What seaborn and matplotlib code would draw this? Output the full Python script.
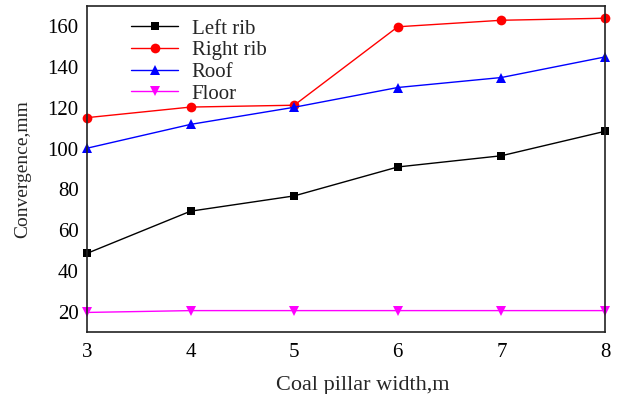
import matplotlib
matplotlib.use("Agg")
import matplotlib.pyplot as plt
import seaborn as sns
import pandas as pd

widths = [3, 4, 5, 6, 7, 8]
left_rib = [48.6, 69.3, 76.8, 91.0, 96.5, 108.5]
right_rib = [115.2, 120.4, 121.3, 159.8, 163.0, 164.0]
roof = [100.2, 111.9, 120.3, 130.0, 134.9, 145.0]
floor = [19.6, 20.5, 20.5, 20.5, 20.5, 20.5]

series = ["Left rib", "Right rib", "Roof", "Floor"]
colors = ["black", "red", "blue", "magenta"]
markers = ["s", "o", "^", "v"]

df = pd.DataFrame({
    "width": widths * 4,
    "value": left_rib + right_rib + roof + floor,
    "series": sum([[s] * len(widths) for s in series], []),
})

sns.set_style("white")
plt.rcParams["font.family"] = ["Liberation Serif", "DejaVu Serif"]

fig = plt.figure(figsize=(6.21, 3.94), dpi=100)
ax = fig.add_axes([87 / 621, 62 / 394, 518 / 621, 326 / 394])

sns.lineplot(data=df, x="width", y="value", hue="series", style="series",
             palette=dict(zip(series, colors)), markers=dict(zip(series, markers)),
             dashes=False, markersize=7, linewidth=1, markeredgewidth=0,
             ax=ax)
for ln in ax.lines:
    ln.set_clip_on(False)
    if ln.get_marker() == "s":
        ln.set_markersize(6)

ax.set_xlim(3, 8)
ax.set_ylim(10, 170)
ax.set_xticks(widths)
ax.set_yticks([20, 40, 60, 80, 100, 120, 140, 160])
ax.tick_params(axis="x", direction="in", length=5, width=1, labelsize=15, pad=8, colors="black")
ax.tick_params(axis="y", direction="out", length=5, width=1, labelsize=15, pad=1, colors="black")
for sp in ax.spines.values():
    sp.set_linewidth(1.2)
    sp.set_color("#222222")

ax.set_xlabel("Coal pillar width,m", fontsize=16)
ax.xaxis.set_label_coords(0.533, -0.135)
ax.set_ylabel("Convergence,mm", fontsize=14, labelpad=12)

leg = ax.legend(loc="upper left", bbox_to_anchor=(0.073, 0.979), frameon=False,
                fontsize=15, handlelength=2.26, labelspacing=0.1, borderpad=0.3,
                borderaxespad=0, handletextpad=0.65)
for h in leg.legend_handles:
    if h.get_marker() == "s":
        h.set_markersize(6)

fig.savefig("out.png", dpi=100)
